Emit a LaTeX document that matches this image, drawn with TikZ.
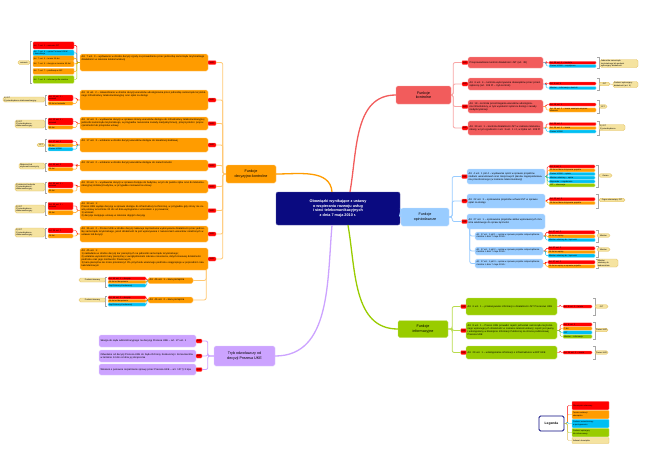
\documentclass[tikz,border=0pt]{standalone}
\usepackage{fontspec}
\setmainfont{Liberation Sans}
\definecolor{cO}{HTML}{FF9C00}
\definecolor{cR}{HTML}{F25C5C}
\definecolor{cRt}{HTML}{FF0000}
\definecolor{cB}{HTML}{99CCFF}
\definecolor{cC}{HTML}{00BFF3}
\definecolor{cG}{HTML}{99CC00}
\definecolor{cP}{HTML}{CCA3FF}
\definecolor{cN}{HTML}{0A0A80}
\definecolor{cY}{HTML}{F5E3A0}
\definecolor{cYd}{HTML}{E3C060}
\newcommand\fta{\fontsize{2.5}{3.05}\selectfont}
\newcommand\ftb{\fontsize{2}{2.45}\selectfont}
\newcommand\ftc{\fontsize{3.7}{4.5}\selectfont}
\newcommand\ftd{\fontsize{3.8}{4.75}\selectfont\bfseries}
\newcommand\brR[2]{\draw[brk] ([xshift=1pt]#1) -- ([xshift=2.6pt]#1) -- ([xshift=2.6pt]#2) -- ([xshift=1pt]#2);}
\newcommand\brL[2]{\draw[brk] ([xshift=-1pt]#1) -- ([xshift=-2.6pt]#1) -- ([xshift=-2.6pt]#2) -- ([xshift=-1pt]#2);}
\tikzset{
 wh/.code 2 args={\tikzset{minimum width=#1pt,minimum height=#2pt}},
 cb/.code 2 args={\pgfmathsetmacro\mytw{#1-2}\edef\myset{\noexpand\tikzset{minimum width=#1pt,minimum height=#2pt,text width=\mytw pt}}\myset},
 cbx/.code 2 args={\pgfmathsetmacro\mytw{#1-3}\edef\myset{\noexpand\tikzset{minimum width=#1pt,minimum height=#2pt,text width=\mytw pt}}\myset},
 tb/.code 2 args={\pgfmathsetmacro\mytw{#1-3}\pgfmathsetmacro\mytd{max(#2-4.4,0)}\edef\myset{\noexpand\tikzset{minimum width=#1pt,text width=\mytw pt,text height=2.4pt,text depth=\mytd pt}}\myset},
 box/.style={rounded corners=1.6pt,inner xsep=1.5pt,inner ysep=1pt,align=left,font=\fta,line width=0.35pt},
 ob/.style={box,fill=cO,draw=cO!55!white},
 rb/.style={box,fill=cR,draw=cR!55!white},
 bb/.style={box,fill=cB,draw=cB!55!white},
 gb/.style={box,fill=cG,draw=cG!55!white},
 pb/.style={box,fill=cP,draw=cP!55!white},
 mb/.style={align=center,font=\ftc},
 bar/.style={rounded corners=0.9pt,inner xsep=1pt,inner ysep=0.1pt,align=left,font=\ftb,line width=0.3pt},
 sR/.style={bar,fill=cRt,draw=cRt!50!white},
 sO/.style={bar,fill=cO,draw=cO!50!white},
 sC/.style={bar,fill=cC,draw=cC!50!white},
 sG/.style={bar,fill=cG,draw=cG!50!white},
 sY/.style={bar,fill=cY,draw=cYd},
 tg/.style={rounded corners=0.8pt,fill=cRt,draw=cRt!50!white,inner sep=0pt,font=\ftb,line width=0.3pt},
 nt/.style={rounded corners=1.6pt,fill=cY,draw=cYd,inner xsep=1pt,inner ysep=0.1pt,align=left,font=\ftb,line width=0.35pt},
 mc/.style={line width=1.3pt},
 tk/.style={line width=0.8pt,rounded corners=2pt},
 sc/.style={line width=0.45pt,rounded corners=1.2pt},
 brk/.style={draw=gray!70,line width=0.35pt}
}
\begin{document}
\begin{tikzpicture}[x=1pt,y=-1pt]
\fill[white] (0,0) rectangle (651,455);
\useasboundingbox (0,0) rectangle (651,455);

% ---------- main branches ----------
\node[ob,mb,wh={50}{18}] (dk) at (251,174) {Funkcje\\decyzyjno-kontrolne};
\node[rb,mb,wh={55}{18}] (fk) at (423.5,95) {Funkcje\\kontrolne};
\node[bb,mb,wh={48}{18}] (fo) at (425,217) {Funkcje\\opiniodawcze};
\node[gb,mb,wh={50}{17}] (fi) at (423,329) {Funkcje\\informacyjne};
\node[pb,mb,wh={61}{20}] (tr) at (244.5,356) {Tryb odwoławczy od\\decyzji Prezesa UKE};

% ---------- centre ----------
\node[fill=cN,draw=cN!70!white,rounded corners=2pt,align=center,text=white,font=\ftd,wh={124}{33}] (c) at (338,208.5) {Obowiązki wynikające z ustawy\\o wspieraniu rozwoju usług\\i sieci telekomunikacyjnych\\z dnia 7 maja 2010 r.};

\draw[mc,cO] ([xshift=-6pt]c.north) to[out=95,in=0] (dk.east);
\draw[mc,cR] ([xshift=12pt]c.north) to[out=80,in=180] (fk.west);
\draw[mc,cB] (c.east) to[out=0,in=180] (fo.west);
\draw[mc,cG] ([xshift=10pt]c.south) to[out=-80,in=180] (fi.west);
\draw[mc,cP] ([xshift=-6pt]c.south) to[out=-95,in=0] (tr.east);

% ---------- Funkcje decyzyjno-kontrolne ----------
\node[ob,tb={128}{17}] (d1) at (144,62.5) {Art. 7 ust. 3 – wydawanie w drodze decyzji zgody na prowadzenie przez jednostkę samorządu terytorialnego działalności w zakresie telekomunikacji};
\node[ob,tb={128}{20}] (d2) at (144,100) {Art. 11 ust. 2 – zatwierdzanie w drodze decyzji warunków udostępniania przez jednostkę samorządu terytorialnego infrastruktury telekomunikacyjnej oraz opłat za dostęp};
\node[ob,tb={128}{13}] (d3) at (144,123.5) {Art. 12 ust. 3 – wydawanie decyzji w sprawie zmiany warunków dostępu do infrastruktury telekomunikacyjnej jednostki samorządu terytorialnego, w przypadku naruszenia zasady niedyskryminacji, przejrzystości i proporcjonalności lub przepisów ustawy};
\node[ob,tb={128}{14}] (d4) at (144,145) {Art. 17 ust. 3 – ustalanie w drodze decyzji warunków dostępu do kanalizacji kablowej};
\node[ob,tb={128}{11}] (d5) at (144,165.5) {Art. 22 ust. 2 – ustalanie w drodze decyzji warunków dostępu do nieruchomości};
\node[ob,tb={128}{13}] (d6) at (144,186.5) {Art. 30 ust. 5 – wydawanie decyzji w sprawie dostępu do budynku, w tym do punktu styku oraz do telekomunikacyjnej instalacji budynku, w przypadku niezawarcia umowy};
\node[ob,tb={128}{19}] (d7) at (144,210.5) {Art. 33 ust. 1:\\Prezes UKE wydaje decyzję w sprawie dostępu do infrastruktury technicznej, w przypadku gdy strony nie zawrą umowy w terminie 30 dni od dnia wystąpienia z wnioskiem o jej zawarcie;\\1) wniosek\\2) decyzja zastępuje umowę w zakresie objętym decyzją};
\node[ob,tb={128}{16}] (d8) at (144,234) {Art. 36 ust. 2 – Prezes UKE w drodze decyzji nakazuje zaprzestanie wykonywania działalności przez jednostkę samorządu terytorialnego, jeżeli działalność ta jest wykonywana z naruszeniem warunków określonych w ustawie lub decyzji};
\node[ob,tb={128}{22}] (d9) at (144,259) {Art. 45 ust. 1:\\1) nakładanie w drodze decyzji kar pieniężnych na jednostki samorządu terytorialnego;\\2) ustalanie wysokości kary pieniężnej z uwzględnieniem zakresu naruszenia, dotychczasowej działalności podmiotu oraz jego możliwości finansowych;\\3) kara pieniężna nie może przekroczyć 3\% przychodu ukaranego podmiotu osiągniętego w poprzednim roku kalendarzowym};
\node[ob,tb={45}{6}] (d10) at (170.5,280.5) {Art. 46 ust. 1 – kara pieniężna};
\node[ob,tb={45}{6}] (d11) at (170.5,300) {Art. 46 ust. 2 – kara pieniężna};

\foreach \i/\y in {1/62.5,2/100,3/123.5,4/145,5/165.5,6/186.5,7/210.5,8/234,9/259}
  \node[tg,wh={8}{4}] (dt\i) at (212,\y) {UKE};
\foreach \i in {1,...,9} \draw[tk,cO!55!white] (dk.west) -- ++(-3,0) |- (dt\i.east);
\draw[tk,cO!55!white] ([xshift=-2pt]d9.south east) |- (d10.east);
\draw[tk,cO!55!white] ([xshift=-2pt]d9.south east) |- (d11.east);

% subtags d1
\node[sR,cb={41}{7.3}] (d1a) at (53.5,45.4) {Art. 7 ust. 1 – wniosek JST};
\node[sC,cb={41}{5.7}] (d1b) at (53.5,52.9) {Art. 7 ust. 4 – opinia Prezesa UOKiK\\i konsultacje};
\node[sO,cb={41}{5.3}] (d1c) at (53.5,58.4) {Art. 7 ust. 5 – termin 30 dni};
\node[sO,cb={41}{5.7}] (d1d) at (53.5,63.9) {Art. 7 ust. 6 – decyzja w terminie 60 dni};
\node[sO,cb={41}{6}] (d1e) at (53.5,71.3) {Art. 7 ust. 7 – publikacja w BIP};
\node[sG,cb={41}{7.6}] (d1f) at (53.5,79.5) {Art. 7 ust. 8 – informacja dla ministra};
\node[nt,wh={12}{4}] (d1n) at (24,62.5) {wniosek};
\brL{d1a.north west}{d1f.south west}
\foreach \s/\k in {d1a/cRt,d1b/cC,d1c/cO,d1d/cO,d1e/cO,d1f/cG} \draw[sc,\k] (d1.west) -- ++(-3,0) |- (\s.east);

% subtags d2..d8
\node[sR,cb={25}{6}] (d2a) at (60.5,98) {Art. 11 ust. 1 –\\wniosek};
\node[sO,cb={25}{3.8}] (d2b) at (60.5,103.3) {30 dni od wniosku};
\node[nt,cb={42}{5}] (d2n) at (24,99.5) {1) JST\\2) przedsiębiorca telekomunikacyjny};
\brL{d2a.north west}{d2b.south west}
\node[sR,cb={25}{7}] (d3a) at (60.5,121.5) {Art. 12 ust. 1 –\\wniosek};
\node[sO,cb={25}{3.6}] (d3b) at (60.5,127.3) {60 dni};
\node[nt,cb={30}{8}] (d3n) at (30,124) {1) JST\\2) przedsiębiorca\\telekomunikacyjny};
\brL{d3a.north west}{d3b.south west}
\node[sR,cb={25}{3.5}] (d4a) at (60.5,141.5) {Art. 17 ust. 1};
\node[sO,cb={25}{3.5}] (d4b) at (60.5,145.3) {30 dni};
\node[sC,cb={25}{3.5}] (d4c) at (60.5,149.2) {Prezes UOKiK};
\node[nt,wh={8}{3.6}] (d4n) at (41,145) {JST};
\brL{d4a.north west}{d4c.south west}
\node[sR,cb={25}{4}] (d5a) at (60.5,165) {Art. 22 ust. 1};
\node[sO,cb={25}{3.5}] (d5b) at (60.5,169.2) {14 dni};
\node[nt,cb={26}{6}] (d5n) at (32,166) {Właściciel lub\\użytkownik wieczysty};
\brL{d5a.north west}{d5b.south west}
\node[sR,cb={25}{6}] (d6a) at (60.5,185) {Art. 30 ust. 1 –\\wniosek};
\node[sO,cb={25}{4}] (d6b) at (60.5,191) {30 dni};
\node[nt,cb={30}{8}] (d6n) at (30,187) {1) właściciel budynku\\2) przedsiębiorca\\telekomunikacyjny};
\brL{d6a.north west}{d6b.south west}
\node[sR,cb={25}{7.5}] (d7a) at (60.5,206) {Art. 33 ust. 2 –\\wniosek};
\node[sO,cb={25}{4.5}] (d7b) at (60.5,212.7) {30 dni};
\node[nt,cb={30}{8}] (d7n) at (30,209) {1) JST\\2) przedsiębiorca\\telekomunikacyjny};
\brL{d7a.north west}{d7b.south west}
\node[sR,cb={25}{5}] (d8a) at (60.5,230.5) {Art. 36 ust. 1};
\node[sO,cb={25}{4}] (d8b) at (60.5,236) {14 dni};
\node[nt,cb={30}{9}] (d8n) at (30,232.5) {1) JST\\2) przedsiębiorca\\telekomunikacyjny};
\brL{d8a.north west}{d8b.south west}
\foreach \b/\s/\k in {d2/d2a/cRt,d2/d2b/cO,d3/d3a/cRt,d3/d3b/cO,d4/d4a/cRt,d4/d4b/cO,d4/d4c/cC,d5/d5a/cRt,d5/d5b/cO,d6/d6a/cRt,d6/d6b/cO,d7/d7a/cRt,d7/d7b/cO,d8/d8a/cRt,d8/d8b/cO}
  \draw[sc,\k] (\b.west) -- ++(-3,0) |- (\s.east);

% subtags d10, d11
\node[sR,cb={38}{3.2}] (d10a) at (127,278.5) {Art. 46 ust. 1 – decyzja};
\node[sO,cb={38}{3.2}] (d10b) at (127,282) {14 dni od doręczenia};
\node[sC,cb={38}{3.2}] (d10c) at (127,285.5) {Sąd Ochrony Konkurencji};
\node[nt,wh={27}{4}] (d10n) at (92.5,280) {Podmiot ukarany};
\brL{d10a.north west}{d10c.south west}
\node[sR,cb={38}{3.2}] (d11a) at (127,297.5) {Art. 46 ust. 2 – decyzja};
\node[sO,cb={38}{3.2}] (d11b) at (127,301) {14 dni od doręczenia};
\node[sC,cb={38}{3.2}] (d11c) at (127,304.5) {Sąd Ochrony Konkurencji};
\node[nt,wh={27}{4}] (d11n) at (92.5,300) {Podmiot ukarany};
\brL{d11a.north west}{d11c.south west}
\foreach \b/\s/\k in {d10/d10a/cRt,d10/d10b/cO,d10/d10c/cC,d11/d11a/cRt,d11/d11b/cO,d11/d11c/cC}
  \draw[sc,\k] (\b.west) -- ++(-1,0) |- (\s.east);

% ---------- Funkcje kontrolne ----------
\node[rb,cbx={75}{11}] (k1) at (505.5,62.5) {Przeprowadzanie kontroli działalności JST (art. 38)};
\node[rb,cbx={75}{12}] (k2) at (505.5,84) {Art. 6 ust. 4 – kontrola wykonywania obowiązków przez przedsiębiorcę (art. 199 Pt – tryb kontroli)};
\node[rb,cbx={75}{13}] (k3) at (505.5,106.5) {Art. 18 – kontrola przestrzegania warunków udostępniania infrastruktury, w tym wysokości opłat za dostęp i zasady niedyskryminacji};
\node[rb,cbx={75}{14}] (k4) at (505.5,128) {Art. 39 ust. 1 – kontrola działalności JST w zakresie telekomunikacji, w tym zgodności z art. 3 ust. 1 i 2, w trybie art. 199 Pt};
\foreach \i/\y in {1/62.5,2/84,3/106.5,4/128} \node[tg,wh={6}{4}] (kt\i) at (465,\y) {UKE};
\foreach \i in {1,...,4} \draw[tk,cR!55!white] (fk.east) -- ++(2,0) |- (kt\i.west);

\node[sR,cb={47}{3}] (k1a) at (572.5,62.8) {Art. 38 ust. 1 – kontrola};
\node[sC,cb={47}{3}] (k1b) at (572.5,66) {Prezes UOKiK – współpraca};
\node[sR,cb={47}{3}] (k2a) at (572.5,83.5) {Art. 6 ust. 4};
\node[sC,cb={47}{3}] (k2b) at (572.5,88) {Minister – informacja o kontroli};
\node[sR,cb={47}{3}] (k3a) at (572.5,104.5) {Art. 18 ust. 1};
\node[sO,cb={47}{4}] (k3b) at (572.5,110) {Art. 18 ust. 2 – termin usunięcia nieprawidłowości};
\node[sR,cb={47}{3}] (k4a) at (572.5,124) {Art. 39 ust. 1};
\node[sO,cb={47}{3}] (k4b) at (572.5,128) {Art. 39 ust. 2 – termin};
\node[sC,cb={47}{3}] (k4c) at (572.5,131.5) {Prezes UOKiK};
\foreach \b/\s/\k in {k1/k1a/cRt,k1/k1b/cC,k2/k2a/cRt,k2/k2b/cC,k3/k3a/cRt,k3/k3b/cO,k4/k4a/cRt,k4/k4b/cO,k4/k4c/cC}
  \draw[sc,\k] (\b.east) -- ++(3,0) |- (\s.west);
\brR{k1a.east |- k1.north}{k1a.east |- k1.south}
\brR{k2a.east |- k2.north}{k2a.east |- k2.south}
\brR{k3a.east |- k3.north}{k3a.east |- k3.south}
\brR{k4a.east |- k4.north}{k4a.east |- k4.south}
\node[nt,cb={38}{8}] (k1n) at (619,63.5) {Jednostka samorządu\\terytorialnego lub podmiot\\wykonujący działalność};
\node[nt,wh={11}{3.6}] (k2n) at (604.5,84) {JST};
\node[nt,cb={25}{6}] (k2m) at (625.5,84.5) {Podmiot wykonujący\\działalność (art. 6)};
\draw[cYd,line width=0.4pt] (k2n.east) -- (k2m.west);
\node[nt,wh={8}{3.6}] (k3n) at (603,106.5) {JST};
\node[nt,cb={26}{6}] (k4n) at (612,127.5) {1) JST\\2) przedsiębiorca};

% ---------- Funkcje opiniodawcze ----------
\node[bb,cbx={78}{15}] (o1) at (506,176.5) {Art. 4 ust. 1 pkt 4 – wydawanie opinii w sprawie projektów studium uwarunkowań oraz miejscowych planów zagospodarowania przestrzennego (w zakresie telekomunikacji)};
\node[bb,cbx={78}{14}] (o2) at (506,201) {Art. 22 ust. 3 – opiniowanie projektów uchwał JST w sprawie opłat za dostęp};
\node[bb,cbx={78}{15}] (o3) at (506,221.5) {Art. 27 ust. 1 – opiniowanie projektów aktów wykonawczych ministra właściwego do spraw łączności};
\foreach \i/\y in {1/176.5,2/201,3/221.5} \node[tg,wh={5.5}{4}] (ot\i) at (464.5,\y) {UKE};
\foreach \i in {1,2,3} \draw[tk,cB] (fo.east) -- ++(3,0) |- (ot\i.west);

\node[sR,cb={46}{3.2}] (o1a) at (572,166.5) {Art. 4 ust. 1};
\node[sO,cb={46}{3.2}] (o1b) at (572,170.25) {30 dni od dnia otrzymania projektu};
\node[sC,cb={46}{3.2}] (o1c) at (572,174) {Prezes UOKiK – opinia};
\node[sC,cb={46}{3.2}] (o1d) at (572,177.75) {Minister właściwy – opinia};
\node[sC,cb={46}{3.2}] (o1e) at (572,181.5) {Wojewoda – uzgodnienie};
\node[sG,cb={46}{3.2}] (o1f) at (572,185.25) {JST – informacja};
\node[sR,cb={46}{3.2}] (o2a) at (572,199.2) {Art. 22 ust. 3};
\node[sO,cb={46}{3.2}] (o2b) at (572,203) {14 dni od dnia otrzymania projektu};
\foreach \b/\s/\k in {o1/o1a/cRt,o1/o1b/cO,o1/o1c/cC,o1/o1d/cC,o1/o1e/cC,o1/o1f/cG,o2/o2a/cRt,o2/o2b/cO}
  \draw[sc,\k] (\b.east) -- ++(2,0) |- (\s.west);
\brR{o1a.north east}{o1f.south east}
\brR{o2a.east |- o2.north}{o2a.east |- o2.south}
\node[nt,wh={13}{3.6}] (o1n) at (605.5,175.5) {Gmina};
\node[nt,wh={26}{3.6}] (o2n) at (612,200) {Organ stanowiący JST};

\node[bb,cbx={68}{8},font=\fontsize{2.2}{2.7}\selectfont] (o31) at (509,236) {Art. 27 ust. 1 pkt 1 – opinia w sprawie projektu rozporządzenia ministra z dnia 7 maja 2010 r.};
\node[bb,cbx={68}{8},font=\fontsize{2.2}{2.7}\selectfont] (o32) at (509,251) {Art. 27 ust. 1 pkt 2 – opinia w sprawie projektu rozporządzenia ministra z dnia 7 maja 2010 r.};
\node[bb,cbx={68}{9},font=\fontsize{2.2}{2.7}\selectfont] (o33) at (509,263.5) {Art. 27 ust. 1 pkt 3 – opinia w sprawie projektu rozporządzenia ministra z dnia 7 maja 2010 r.};
\foreach \i in {1,2,3} \draw[tk,cB] ([xshift=3pt]o3.south west) |- (o3\i.west);

\node[sR,cb={47}{3.3}] (o31a) at (571.5,232.3) {Art. 27 ust. 2};
\node[sO,cb={47}{3.3}] (o31b) at (571.5,236.3) {14 dni na opinię};
\node[sC,cb={47}{3.3}] (o31c) at (571.5,240) {Minister właściwy ds. łączności};
\node[sR,cb={47}{3.3}] (o32a) at (571.5,248.3) {Art. 27 ust. 2};
\node[sO,cb={47}{3.3}] (o32b) at (571.5,252) {14 dni na opinię};
\node[sC,cb={47}{3.3}] (o32c) at (571.5,255.7) {Minister właściwy ds. łączności};
\node[sR,cb={47}{3.5}] (o33a) at (571.5,262.2) {Art. 27 ust. 2};
\node[sO,cb={47}{3.5}] (o33b) at (571.5,266.3) {14 dni na opinię w sprawie projektu};
\foreach \b/\s/\k in {o31/o31a/cRt,o31/o31b/cO,o31/o31c/cC,o32/o32a/cRt,o32/o32b/cO,o32/o32c/cC,o33/o33a/cRt,o33/o33b/cO}
  \draw[sc,\k] (\b.east) -- ++(2.5,0) |- (\s.west);
\brR{o31a.north east}{o31c.south east}
\brR{o32a.north east}{o32c.south east}
\brR{o33a.east |- o33.north}{o33a.east |- o33.south}
\node[nt,wh={13}{3.6}] (o31n) at (603.5,235.5) {Minister};
\node[nt,wh={13}{3.6}] (o32n) at (603.5,249.5) {Minister};
\node[nt,cb={21}{8}] (o33n) at (607.5,263) {Minister\\właściwy ds.\\budownictwa};

% ---------- Funkcje informacyjne ----------
\node[gb,cbx={91}{17}] (i1) at (511.5,306.5) {Art. 6 ust. 1 – przekazywanie informacji o działalności JST Prezesowi UKE};
\node[gb,cbx={91}{17}] (i2) at (511.5,330.5) {Art. 8 ust. 1 – Prezes UKE prowadzi rejestr jednostek samorządu terytorialnego wykonujących działalność w zakresie telekomunikacji; rejestr jest jawny i udostępniany w Biuletynie Informacji Publicznej na stronie podmiotowej Prezesa UKE};
\node[gb,cbx={91}{13}] (i3) at (511.5,352.5) {Art. 29 ust. 1 – udostępnianie informacji o infrastrukturze w BIP UKE};
\foreach \i/\y in {1/306.5,2/330.5,3/352.5} \node[tg,wh={5.5}{4}] (it\i) at (463.5,\y) {UKE};
\foreach \i in {1,2,3} \draw[tk,cG!70!white] (fi.east) -- ++(4,0) |- (it\i.west);

\node[sR,cb={29}{3}] (i1a) at (577.5,306.5) {Art. 6 ust. 2 – termin};
\node[sR,cb={29}{3.5}] (i2a) at (577.5,324.5) {Art. 8 ust. 2};
\node[sO,cb={29}{3.5}] (i2b) at (577.5,328.5) {7 dni};
\node[sC,cb={29}{3.5}] (i2c) at (577.5,332.5) {JST};
\node[sG,cb={29}{3.5}] (i2d) at (577.5,336.5) {Minister – informacja};
\node[sR,cb={29}{3}] (i3a) at (577.5,352.5) {Art. 29 ust. 2 – termin};
\foreach \b/\s/\k in {i1/i1a/cRt,i2/i2a/cRt,i2/i2b/cO,i2/i2c/cC,i2/i2d/cG,i3/i3a/cRt}
  \draw[sc,\k] (\b.east) -- ++(3,0) |- (\s.west);
\brR{i1a.east |- i1.north}{i1a.east |- i1.south}
\brR{i2a.east |- i2.north}{i2a.east |- i2.south}
\brR{i3a.east |- i3.north}{i3a.east |- i3.south}
\node[nt,wh={13}{3.6}] (i1n) at (601.5,306.5) {JST};
\node[nt,wh={13}{3.6}] (i2n) at (601.5,330) {Prezes UKE};
\node[nt,wh={13}{3.6}] (i3n) at (601.5,352.5) {Prezes UKE};

% ---------- Tryb odwoławczy ----------
\node[pb,cbx={97}{12}] (p1) at (147.5,341) {Skarga do sądu administracyjnego na decyzję Prezesa UKE – art. 27 ust. 1};
\node[pb,cbx={97}{12}] (p2) at (147.5,356) {Odwołanie od decyzji Prezesa UKE do Sądu Ochrony Konkurencji i Konsumentów w terminie 14 dni od dnia jej doręczenia};
\node[pb,cbx={97}{11}] (p3) at (147.5,369.5) {Wniosek o ponowne rozpatrzenie sprawy przez Prezesa UKE – art. 127 § 3 kpa};
\foreach \i/\y in {1/341,2/356,3/369.5} \node[tg,wh={6}{4}] (pt\i) at (199,\y) {UKE};
\foreach \i in {1,2,3} \draw[tk,cP] (tr.west) -- ++(-6,0) |- (pt\i.east);

% ---------- Legenda ----------
\node[fill=white,draw=cN,line width=0.8pt,rounded corners=1.5pt,font=\fontsize{3.3}{4}\selectfont\bfseries,wh={25}{15}] (leg) at (551.5,423.5) {Legenda};
\node[sR,cb={37}{8.5}] (L1) at (590.5,405.5) {Obowiązek ustawowy};
\node[sO,cb={37}{8.5}] (L2) at (590.5,414.5) {Termin realizacji\\obowiązku};
\node[sC,cb={37}{8.5}] (L3) at (590.5,423.5) {Podmiot uczestniczący\\w postępowaniu};
\node[sG,cb={37}{8.5}] (L4) at (590.5,432.5) {Podmiot opiniujący\\lub informowany};
\node[sY,cb={37}{6}] (L5) at (590.5,440.5) {Adresat obowiązku};
\foreach \s/\k in {L1/cRt,L2/cO,L3/cC,L4/cG,L5/cYd}
  \draw[sc,\k] (leg.east) -- ++(3,0) |- (\s.west);
\end{tikzpicture}
\end{document}
